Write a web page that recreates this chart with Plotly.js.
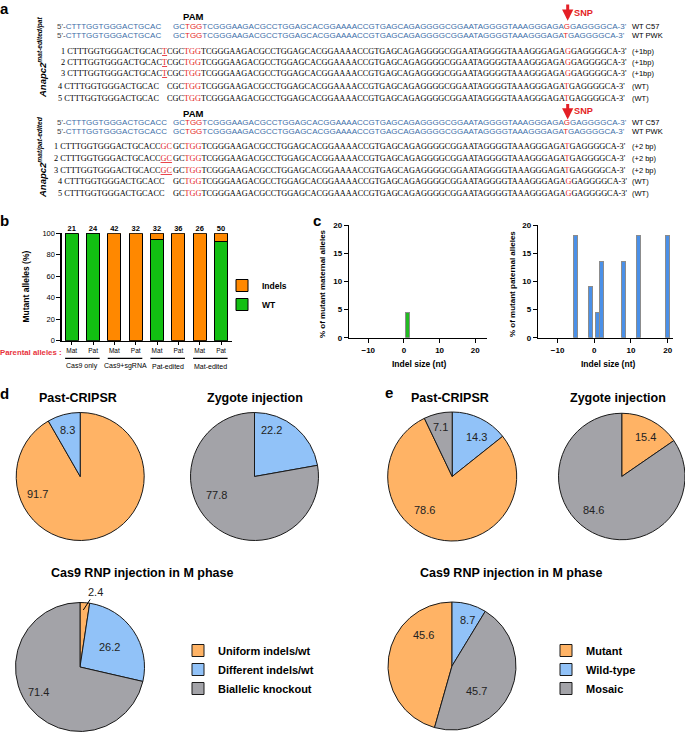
<!DOCTYPE html>
<html><head><meta charset="utf-8">
<script src="https://cdn.plot.ly/plotly-3.0.1.min.js"></script>
<style>html,body{margin:0;padding:0;background:#fff}#chart{width:685px;height:732px}</style>
</head><body><div id="chart"></div>
<script>
// ================= DATA =================
// Panel a : sequences
const leftSeq = "CTTTGGTGGGACTGCAC";
const pamSeq = "TGG";
const coreSeq = "TCGGGAAGACGCCTGGAGCACGGAAAACCGTGAGCAGAGGGGCGGAATAGGGGTAAAGGGAGA";
const tailSeq = "GAGGGGCA";
const refSnp = ["G", "T"];
const refNames = ["WT C57", "WT PWK"];
const block1Label = "Anapc2";
const block1Sup = "mat-edited/pat";
const block1Insert = ["T", "T", "T", "", ""];
const block1Snp = ["G", "G", "G", "T", "T"];
const block1Notes = ["(+1bp)", "(+1bp)", "(+1bp)", "(WT)", "(WT)"];
const block2Sup = "mat/pat-edited";
const block2Insert = ["GC", "GC", "GC", "", ""];
const block2Snp = ["T", "T", "T", "G", "G"];
const block2Notes = ["(+2 bp)", "(+2 bp)", "(+2 bp)", "(WT)", "(WT)"];

// Panel b : stacked bars
const barCategories = ["Mat", "Pat", "Mat", "Pat", "Mat", "Pat", "Mat", "Pat"];
const barGroups = ["Cas9 only", "Cas9+sgRNA", "Pat-edited", "Mat-edited"];
const barCounts = [21, 24, 42, 32, 32, 36, 26, 50];
const wtPct = [100, 100, 0, 0, 93.75, 0, 0, 92];
const indelPct = [0, 0, 100, 100, 6.25, 100, 100, 8];

// Panel c : indel size distributions
const maternalSize = [1];
const maternalPct = [4.5];
const paternalSize = [-5, -1, 1, 2, 8, 12, 20];
const paternalPct = [18.2, 9.1, 4.5, 13.6, 13.6, 18.2, 18.2];

// Panel d : pies (slices listed clockwise from 12 o'clock)
const dPastLabels = ["Uniform indels/wt", "Different indels/wt"];
const dPastValues = [91.7, 8.3];
const dZygLabels = ["Different indels/wt", "Biallelic knockout"];
const dZygValues = [22.2, 77.8];
const dMLabels = ["Uniform indels/wt", "Different indels/wt", "Biallelic knockout"];
const dMValues = [2.4, 26.2, 71.4];

// Panel e : pies
const ePastLabels = ["Wild-type", "Mutant", "Mosaic"];
const ePastValues = [14.3, 78.6, 7.1];
const eZygLabels = ["Mutant", "Mosaic"];
const eZygValues = [15.4, 84.6];
const eMLabels = ["Mutant", "Wild-type", "Mosaic"];
const eMValues = [45.6, 8.7, 45.7];

// ================= STYLE / LAYOUT =================
const W = 685, H = 732;
const PX = x => x / W, PY = y => 1 - y / H;
const SANS = "Liberation Sans, Arial, Helvetica, sans-serif";
const SERIF = "Liberation Serif, Times New Roman, serif";
const RED = "#e41f26", BLUE = "#3d6ea8";
const GREEN = "#12bf12", ORANGE = "#ff8800";
const PIE_COL = {
  "Uniform indels/wt": "#ffb365", "Mutant": "#ffb365",
  "Different indels/wt": "#91c2f8", "Wild-type": "#91c2f8",
  "Biallelic knockout": "#a3a3a8", "Mosaic": "#a3a3a8"
};

const ann = [];
function A(text, x, y, o) {
  const base = {xref: 'paper', yref: 'paper', x: PX(x), y: PY(y), text: text, showarrow: false,
    xanchor: 'center', yanchor: 'middle', borderpad: 0, borderwidth: 0,
    font: {family: SANS, size: 8, color: '#000'}};
  ann.push(Object.assign(base, o || {}));
}
const red = s => '<span style="color:' + RED + '">' + s + '</span>';
const redU = s => '<span style="color:' + RED + '"><u>' + s + '</u></span>';

// ---- Panel a ----
A('<b>a</b>', 0, 9, {xanchor: 'left', font: {family: SANS, size: 15, color: '#000'}});
const blocks = [
  {leftExtra: "", rowPrefix: "CGC", ins: block1Insert, snp: block1Snp, notes: block1Notes, sup: block1Sup,
   rowsY: [51, 62.3, 73.5, 86, 98], hdrY: [26, 35], pamY: 16, snpY: 13.3, arrow: [3, 20.7], labY: 58, uline: [true, true, true]},
  {leftExtra: "C", rowPrefix: "GC", ins: block2Insert, snp: block2Snp, notes: block2Notes, sup: block2Sup,
   rowsY: [146.7, 158.3, 170, 181.7, 193.3], hdrY: [122.7, 132], pamY: 113.3, snpY: 111, arrow: [102.5, 119.5], labY: 157, uline: [false, true, true]}
];
const xGC = 172.7, xCGC = 166.5, xNote = 631.5;
blocks.forEach(b => {
  A('<b>PAM</b>', 193.3, b.pamY, {font: {family: SANS, size: 9.5, color: '#000'}});
  A('<b>SNP</b>', 574, b.snpY, {xanchor: 'left', font: {family: SANS, size: 9.2, color: RED}});
  ann.push({xref: 'paper', yref: 'paper', x: PX(567.7), y: PY(b.arrow[1]), ax: 0, ay: -(b.arrow[1] - b.arrow[0]),
    axref: 'pixel', ayref: 'pixel', text: '', showarrow: true, arrowhead: 2, arrowsize: 0.75, arrowwidth: 3,
    arrowcolor: RED, standoff: 0});
  A('<b><i>' + block1Label + '</i></b><sup><b><i>' + b.sup + '</i></b></sup>', 42, b.labY,
    {textangle: -90, font: {family: SANS, size: 9.5, color: '#000'}});
  // reference rows
  refSnp.forEach((s, k) => {
    A('<span style="color:#444">5\'-</span>' + leftSeq + b.leftExtra, 56.7, b.hdrY[k],
      {xanchor: 'left', font: {family: SANS, size: 8, color: BLUE}});
    A('GC' + red(pamSeq) + coreSeq + red(s) + tailSeq + '-3\'', xGC, b.hdrY[k],
      {xanchor: 'left', font: {family: SANS, size: 8, color: BLUE}});
    A(refNames[k], xNote, b.hdrY[k], {xanchor: 'left', font: {family: SANS, size: 7.5, color: '#000'}});
  });
  // clone rows
  b.rowsY.forEach((y, i) => {
    const xr = b.rowPrefix === 'CGC' ? xCGC : xGC;
    const num = (i + 1) + ' ';
    if (b.ins[i]) {
      const insTxt = b.uline[i] ? redU(b.ins[i]) : red(b.ins[i]);
      A(num + leftSeq + b.leftExtra + insTxt, xr, y, {xanchor: 'right', font: {family: SERIF, size: 8.25, color: '#000'}});
    } else {
      A(num + leftSeq + b.leftExtra, 58, y, {xanchor: 'left', font: {family: SERIF, size: 8.25, color: '#000'}});
    }
    A(b.rowPrefix + red(pamSeq) + coreSeq + red(b.snp[i]) + tailSeq + '-3\'', xr, y,
      {xanchor: 'left', font: {family: SERIF, size: 8.25, color: '#000'}});
    A(b.notes[i], xNote, y, {xanchor: 'left', font: {family: SANS, size: 7.5, color: '#000'}});
  });
});

// ---- Panel b ----
A('<b>b</b>', 0, 220, {xanchor: 'left', font: {family: SANS, size: 15, color: '#000'}});
A('<b>Mutant alleles (%)</b>', 25, 286.5, {textangle: -90, font: {family: SANS, size: 8.5, color: '#000'}});
A('<b>Parental alleles :</b>', 0, 352, {xanchor: 'left', font: {family: SANS, size: 7.8, color: '#e8323c'}});
const shapes = [];
barGroups.forEach((g, k) => {
  shapes.push({type: 'line', xref: 'x', yref: 'paper', x0: 2 * k - 0.31, x1: 2 * k + 1.31,
    y0: PY(358.3), y1: PY(358.3), line: {color: '#000', width: 1.2}});
  ann.push({xref: 'x', yref: 'paper', x: 2 * k + 0.5, y: PY(366), text: g, showarrow: false,
    xanchor: 'center', yanchor: 'middle', borderpad: 0, font: {family: SANS, size: 7, color: '#000'}});
});

// ---- Panel c ----
A('<b>c</b>', 313, 221, {xanchor: 'left', font: {family: SANS, size: 15, color: '#000'}});
A('<b>% of mutant maternal alleles</b>', 322, 284, {textangle: -90, font: {family: SANS, size: 8, color: '#000'}});
A('<b>% of mutant paternal alleles</b>', 512, 284, {textangle: -90, font: {family: SANS, size: 8, color: '#000'}});
A('<b>Indel size (nt)</b>', 418.5, 364, {font: {family: SANS, size: 8.5, color: '#000'}});
A('<b>Indel size (nt)</b>', 608, 364, {font: {family: SANS, size: 8.5, color: '#000'}});

// ---- Panels d / e titles ----
A('<b>d</b>', 0, 393, {xanchor: 'left', font: {family: SANS, size: 15, color: '#000'}});
A('<b>e</b>', 385, 392, {xanchor: 'left', font: {family: SANS, size: 15, color: '#000'}});
const TF = {family: SANS, size: 12.5, color: '#000'};
A('<b>Past-CRIPSR</b>', 78, 398, {font: TF});
A('<b>Zygote injection</b>', 254.5, 398, {font: TF});
A('<b>Past-CRIPSR</b>', 450, 398, {font: TF});
A('<b>Zygote injection</b>', 618, 398, {font: TF});
A('<b>Cas9 RNP injection in M phase</b>', 142.5, 573, {font: TF});
A('<b>Cas9 RNP injection in M phase</b>', 512, 573, {font: TF});

// ================= TRACES =================
const idx = barCategories.map((_, i) => i);
const traces = [
  {type: 'bar', x: idx, y: wtPct, name: 'WT', width: 0.62, xaxis: 'x', yaxis: 'y', legend: 'legend',
   marker: {color: GREEN, line: {color: '#000', width: 1}}, hoverinfo: 'skip'},
  {type: 'bar', x: idx, y: indelPct, name: 'Indels', width: 0.62, xaxis: 'x', yaxis: 'y', legend: 'legend',
   marker: {color: ORANGE, line: {color: '#000', width: 1}}, hoverinfo: 'skip'},
  {type: 'scatter', mode: 'text', x: idx, y: idx.map(i => wtPct[i] + indelPct[i]), text: barCounts.map(String),
   textposition: 'top center', textfont: {family: SANS, size: 7.5, color: '#000', weight: 'bold'},
   xaxis: 'x', yaxis: 'y', showlegend: false, cliponaxis: false, hoverinfo: 'skip'},
  {type: 'bar', x: maternalSize, y: maternalPct, width: 1.1, xaxis: 'x2', yaxis: 'y2', showlegend: false,
   marker: {color: '#22bb22', line: {color: '#8c8c8c', width: 1}}, hoverinfo: 'skip'},
  {type: 'bar', x: paternalSize, y: paternalPct, width: 1.1, xaxis: 'x3', yaxis: 'y3', showlegend: false,
   marker: {color: '#4a90e8', line: {color: '#8c8c8c', width: 1}}, hoverinfo: 'skip'}
];

function pie(labels, values, cx, cy, r, legendName, rotation, labelPos) {
  traces.push({type: 'pie', labels: labels, values: values, sort: false, direction: 'clockwise',
    rotation: rotation || 0, textinfo: 'none', hoverinfo: 'skip',
    showlegend: !!legendName, legend: legendName || 'legend',
    marker: {colors: labels.map(l => PIE_COL[l]), line: {color: '#1a1a1a', width: 1}},
    domain: {x: [PX(cx - r), PX(cx + r)], y: [PY(cy + r), PY(cy - r)]}});
  values.forEach((v, i) => {
    const p = labelPos[i];
    if (p.lead) {
      ann.push({xref: 'paper', yref: 'paper', x: PX(cx + p.lead[0]), y: PY(cy + p.lead[1]),
        ax: p[0] - p.lead[0], ay: p[1] - p.lead[1], axref: 'pixel', ayref: 'pixel',
        text: v.toFixed(1), showarrow: true, arrowhead: 0, arrowwidth: 1, arrowcolor: '#000', standoff: 0,
        borderpad: 1, font: {family: SANS, size: 11, color: '#222'}});
    } else {
      A(v.toFixed(1), cx + p[0], cy + p[1], {font: {family: SANS, size: 11, color: '#222'}});
    }
  });
}
const lead24 = [15, -75]; lead24.lead = [3.3, -57];
pie(dPastLabels, dPastValues, 80.2, 476.5, 64, null, 0, [[-43, 17], [-12.5, -46.5]]);
pie(dZygLabels, dZygValues, 254.5, 476.5, 64, null, 0, [[17, -46.5], [-38, 18]]);
pie(dMLabels, dMValues, 80, 667, 64.5, 'legend2', 0, [lead24, [29, -20], [-42, 25]]);
pie(ePastLabels, ePastValues, 452.2, 476.5, 64.5, null, 0, [[24.5, -40], [-28, 33.5], [-12, -50]]);
pie(eZygLabels, eZygValues, 622, 476.5, 63.5, null, 0, [[23, -40], [-28.5, 33.5]]);
const eRot = -(eMValues[0] / eMValues.reduce((a, b) => a + b, 0)) * 360;
pie(eMLabels, eMValues, 452, 666, 64, 'legend3', eRot, [[-29, -31], [15, -46], [24, 25]]);

// ================= AXES =================
const axBase = {showline: true, linecolor: '#000', linewidth: 1.3, ticks: 'outside', ticklen: 4, tickwidth: 1,
  tickcolor: '#000', showgrid: false, zeroline: false, fixedrange: true};
const layout = {
  width: W, height: H, margin: {l: 0, r: 0, t: 0, b: 0}, paper_bgcolor: '#fff', plot_bgcolor: 'rgba(0,0,0,0)',
  font: {family: SANS, color: '#000'}, barmode: 'stack', showlegend: true,
  xaxis: Object.assign({}, axBase, {domain: [PX(61.7), PX(232.3)], range: [-0.47, 7.53], anchor: 'y',
    tickvals: idx, ticktext: barCategories, ticklen: 3, tickfont: {family: SANS, size: 6.5, color: '#000'}}),
  yaxis: Object.assign({}, axBase, {domain: [PY(340.7), PY(233.2)], range: [0, 100], anchor: 'x',
    tickvals: [0, 20, 40, 60, 80, 100], tickfont: {family: SANS, size: 7.5, color: '#000'}}),
  xaxis2: Object.assign({}, axBase, {domain: [PX(349), PX(486.7)], range: [-15.4, 23.2], anchor: 'y2',
    tickvals: [-10, 0, 10, 20], tickfont: {family: SANS, size: 8, color: '#000', weight: 'bold'}}),
  yaxis2: Object.assign({}, axBase, {domain: [PY(337.7), PY(225.3)], range: [0, 20], anchor: 'x2',
    tickvals: [0, 5, 10, 15, 20], tickfont: {family: SANS, size: 8, color: '#000', weight: 'bold'}}),
  xaxis3: Object.assign({}, axBase, {domain: [PX(538), PX(673)], range: [-15.35, 21.46], anchor: 'y3',
    tickvals: [-10, 0, 10, 20], tickfont: {family: SANS, size: 8, color: '#000', weight: 'bold'}}),
  yaxis3: Object.assign({}, axBase, {domain: [PY(337.7), PY(225.3)], range: [0, 20], anchor: 'x3',
    tickvals: [0, 5, 10, 15, 20], tickfont: {family: SANS, size: 8, color: '#000', weight: 'bold'}}),
  legend: {x: PX(222), y: PY(271), xanchor: 'left', yanchor: 'top', traceorder: 'reversed', bgcolor: 'rgba(0,0,0,0)',
    font: {family: SANS, size: 8.5, color: '#000', weight: 'bold'}},
  legend2: {x: PX(178), y: PY(636), xanchor: 'left', yanchor: 'top', bgcolor: 'rgba(0,0,0,0)',
    font: {family: SANS, size: 11, color: '#000', weight: 'bold'}},
  legend3: {x: PX(546), y: PY(636), xanchor: 'left', yanchor: 'top', bgcolor: 'rgba(0,0,0,0)',
    font: {family: SANS, size: 11, color: '#000', weight: 'bold'}},
  annotations: ann,
  shapes: shapes
};
Plotly.newPlot('chart', traces, layout, {staticPlot: true, displayModeBar: false});
</script>
</body></html>
